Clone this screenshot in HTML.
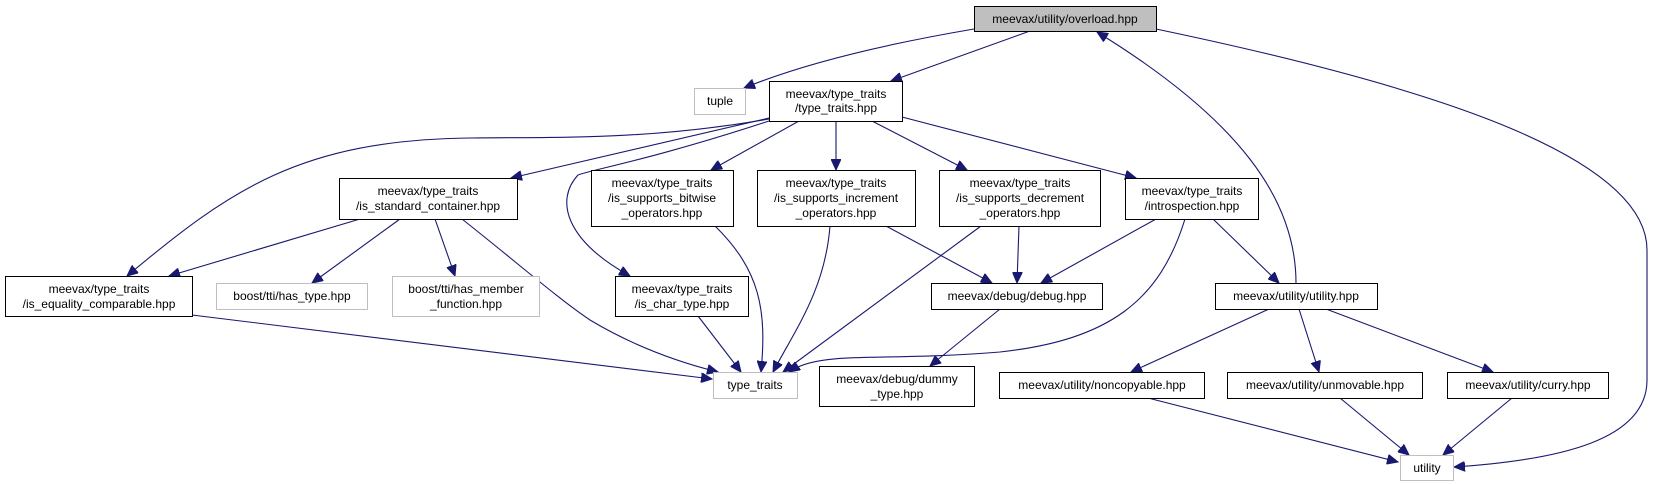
<!DOCTYPE html>
<html><head><meta charset="utf-8"><style>
html,body{margin:0;padding:0;background:#fff;}
svg{display:block;}
text{font-family:"Liberation Sans",sans-serif;font-size:12px;fill:#000;}
</style></head><body>
<svg width="1654" height="484" viewBox="0 0 1654 484" xmlns="http://www.w3.org/2000/svg">
<defs>
<marker id="a" markerUnits="userSpaceOnUse" markerWidth="12" markerHeight="10" refX="11" refY="5" orient="auto">
<path d="M0,0 L11,5 L0,10 Z" fill="#191970" stroke="#191970"/>
</marker>
</defs>
<g fill="none" stroke="#191970" stroke-width="1.1" marker-end="url(#a)">
<path d="M974,29 C880,45 800,65 744,88"/>
<path d="M1030,31 L891,81"/>
<path d="M1156,29 C1400,80 1647,150 1647,250 L1647,380 C1647,440 1560,460 1454,467"/>
<path d="M1296,283 C1296,200 1240,120 1097,32"/>
<path d="M769,118 L511,178"/>
<path d="M769,119 C650,140 560,137 470,138 C300,140 230,190 127,276"/>
<path d="M769,121 C650,160 590,170 578,175 C555,200 565,240 630,276"/>
<path d="M799,121 L711,170"/>
<path d="M836,121 L836,170"/>
<path d="M872,121 L967,170"/>
<path d="M902,117 L1136,178"/>
<path d="M360,219 L169,276"/>
<path d="M400,219 L312,283"/>
<path d="M435,219 L455,276"/>
<path d="M462,219 C520,265 560,300 590,320 C640,350 690,365 718,372"/>
<path d="M192,315 L712,379"/>
<path d="M698,316 L741,372"/>
<path d="M715,226 C760,270 767,310 761,372"/>
<path d="M830,226 C825,290 795,330 773,372"/>
<path d="M981,226 L783,372"/>
<path d="M886,226 L992,283"/>
<path d="M1019,226 L1017,283"/>
<path d="M1156,219 L1041,283"/>
<path d="M1185,219 C1160,300 1110,340 1000,352 C880,362 820,350 789,372"/>
<path d="M1213,219 L1279,283"/>
<path d="M1000,309 L930,366"/>
<path d="M1269,309 L1131,372"/>
<path d="M1299,309 L1319,372"/>
<path d="M1326,309 L1493,372"/>
<path d="M1148,398 L1398,462"/>
<path d="M1340,398 L1409,455"/>
<path d="M1512,398 L1443,455"/>
</g>
<g stroke-width="1">
<rect x="974.5" y="6.5" width="182" height="25" fill="#bfbfbf" stroke="#000"/>
<rect x="694.5" y="88.5" width="51" height="26" fill="#fff" stroke="#bfbfbf"/>
<rect x="769.5" y="81.5" width="133" height="40" fill="#fff" stroke="#000"/>
<rect x="339.5" y="178.5" width="178" height="41" fill="#fff" stroke="#000"/>
<rect x="591.5" y="170.5" width="142" height="56" fill="#fff" stroke="#000"/>
<rect x="757.5" y="170.5" width="158" height="56" fill="#fff" stroke="#000"/>
<rect x="939.5" y="170.5" width="161" height="56" fill="#fff" stroke="#000"/>
<rect x="1125.5" y="178.5" width="133" height="41" fill="#fff" stroke="#000"/>
<rect x="5.5" y="276.5" width="187" height="40" fill="#fff" stroke="#000"/>
<rect x="216.5" y="283.5" width="151" height="26" fill="#fff" stroke="#bfbfbf"/>
<rect x="392.5" y="276.5" width="147" height="40" fill="#fff" stroke="#bfbfbf"/>
<rect x="615.5" y="276.5" width="133" height="40" fill="#fff" stroke="#000"/>
<rect x="931.5" y="283.5" width="171" height="26" fill="#fff" stroke="#000"/>
<rect x="1215.5" y="283.5" width="162" height="26" fill="#fff" stroke="#000"/>
<rect x="713.5" y="372.5" width="84" height="26" fill="#fff" stroke="#bfbfbf"/>
<rect x="819.5" y="366.5" width="155" height="40" fill="#fff" stroke="#000"/>
<rect x="999.5" y="372.5" width="205" height="26" fill="#fff" stroke="#000"/>
<rect x="1227.5" y="372.5" width="195" height="26" fill="#fff" stroke="#000"/>
<rect x="1447.5" y="372.5" width="161" height="26" fill="#fff" stroke="#000"/>
<rect x="1400.5" y="455.5" width="53" height="25" fill="#fff" stroke="#bfbfbf"/>
</g>
<g text-anchor="middle">
<text x="1065" y="23">meevax/utility/overload.hpp</text>
<text x="720" y="105">tuple</text>
<text x="836" y="98">meevax/type_traits</text>
<text x="836" y="112">/type_traits.hpp</text>
<text x="428" y="195">meevax/type_traits</text>
<text x="428" y="210">/is_standard_container.hpp</text>
<text x="662" y="187">meevax/type_traits</text>
<text x="662" y="202">/is_supports_bitwise</text>
<text x="662" y="217">_operators.hpp</text>
<text x="836" y="187">meevax/type_traits</text>
<text x="836" y="202">/is_supports_increment</text>
<text x="836" y="217">_operators.hpp</text>
<text x="1020" y="187">meevax/type_traits</text>
<text x="1020" y="202">/is_supports_decrement</text>
<text x="1020" y="217">_operators.hpp</text>
<text x="1192" y="195">meevax/type_traits</text>
<text x="1192" y="210">/introspection.hpp</text>
<text x="99" y="293">meevax/type_traits</text>
<text x="99" y="308">/is_equality_comparable.hpp</text>
<text x="292" y="300">boost/tti/has_type.hpp</text>
<text x="466" y="293">boost/tti/has_member</text>
<text x="466" y="308">_function.hpp</text>
<text x="682" y="293">meevax/type_traits</text>
<text x="682" y="308">/is_char_type.hpp</text>
<text x="1017" y="300">meevax/debug/debug.hpp</text>
<text x="1296" y="300">meevax/utility/utility.hpp</text>
<text x="755" y="389">type_traits</text>
<text x="897" y="383">meevax/debug/dummy</text>
<text x="897" y="398">_type.hpp</text>
<text x="1102" y="389">meevax/utility/noncopyable.hpp</text>
<text x="1325" y="389">meevax/utility/unmovable.hpp</text>
<text x="1528" y="389">meevax/utility/curry.hpp</text>
<text x="1427" y="472">utility</text>
</g>
</svg>
</body></html>
